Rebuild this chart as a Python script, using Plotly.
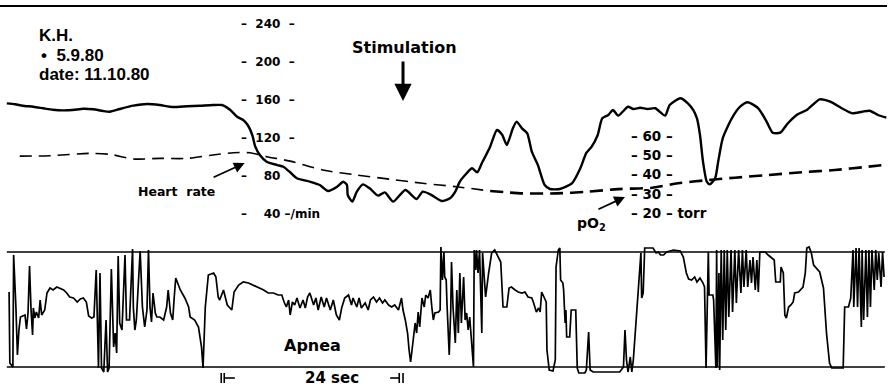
import plotly.graph_objects as go

# ---- recording strip: time in seconds from the left edge of the strip ----
T_END = 117.35

# Heart rate (beats/min)
hr_t = [0.9, 2.0, 3.0, 4.4, 5.7, 7.0, 8.3, 9.6, 11.0, 12.3,
        13.6, 14.5, 15.8, 17.6, 19.4, 21.1, 22.8, 24.7, 26.4, 28.1,
        29.3, 30.4, 31.3, 32.1, 32.7, 33.3, 33.7, 34.3, 35.2, 36.6,
        37.4, 38.3, 39.2, 40.9, 42.2, 43.3, 44.5, 45.3, 45.8, 45.9,
        46.5, 47.1, 47.9, 48.8, 49.9, 50.8, 51.9, 53.5, 55.0, 55.8,
        56.8, 58.3, 59.4, 60.1, 60.7, 61.6, 62.3, 63.0, 63.6, 64.7,
        65.6, 66.3, 66.9, 67.7, 68.2, 68.9, 69.6, 70.2, 71.0, 71.9,
        72.6, 73.9, 75.5, 76.6, 77.4, 78.1, 78.9, 79.5, 80.3, 80.9,
        81.6, 82.2, 82.9, 83.6, 84.5, 85.5, 86.5, 87.8, 88.4, 89.8,
        90.8, 91.5, 92.0, 92.4, 92.8, 93.3, 93.7, 94.4, 94.8, 95.4,
        96.6, 97.7, 98.7, 100.1, 101.2, 102.0, 103.0, 104.0, 105.3, 106.5,
        108.2, 109.6, 111.1, 112.5, 113.8, 114.8, 115.9, 117.0]
hr_bpm = [156.6, 155.6, 154.1, 153.0, 151.4, 149.9, 149.2, 149.6, 150.9, 150.3,
          148.5, 147.8, 150.6, 154.1, 155.9, 154.8, 152.7, 153.5, 154.1, 154.8,
          154.8, 149.6, 142.5, 139.1, 133.8, 123.3, 111.0, 102.3, 95.2, 91.7,
          89.9, 84.1, 77.8, 74.2, 70.7, 64.4, 68.9, 74.2, 70.7, 60.2,
          53.2, 63.7, 71.4, 67.2, 59.5, 63.0, 53.2, 65.4, 56.0, 63.7,
          60.9, 53.9, 56.7, 63.7, 74.2, 83.0, 88.3, 84.1, 93.5, 111.0,
          128.5, 123.3, 112.8, 130.3, 137.3, 130.3, 125.1, 105.7, 91.7, 70.7,
          66.5, 66.5, 72.5, 88.3, 104.4, 111.0, 123.3, 140.8, 144.3, 149.6,
          143.6, 147.8, 153.0, 150.6, 152.0, 150.6, 151.4, 143.6, 154.8, 161.9,
          156.6, 149.6, 140.8, 123.3, 95.2, 74.2, 71.4, 77.8, 95.2, 119.8,
          140.8, 153.0, 157.7, 151.4, 137.3, 125.7, 125.7, 135.6, 145.1, 149.6,
          160.8, 158.3, 151.4, 146.1, 147.8, 148.8, 144.3, 141.5]

# Transcutaneous pO2 (torr)
po2_t = [2.6, 6.6, 11.9, 14.5, 17.6, 21.1, 24.7, 28.1, 30.8, 33.0,
         35.2, 38.3, 42.6, 47.1, 51.5, 55.8, 60.3, 64.7, 69.0, 73.5,
         77.5, 81.6, 86.1, 89.5, 93.5, 97.0, 101.4, 105.9, 110.2, 114.6,
         116.8]
po2_torr = [49.6, 49.8, 51.0, 50.5, 48.1, 48.4, 48.4, 50.2, 51.3, 51.3,
            49.3, 47.0, 42.4, 39.8, 37.6, 35.5, 33.7, 31.5, 30.3, 30.3,
            31.1, 32.5, 33.2, 35.5, 37.2, 38.4, 39.8, 41.2, 42.4, 44.1,
            45.0]

# Respiration (impedance trace, relative units; baseline 0, clip line 115)
resp_t = [1.2, 1.3, 1.7, 1.8, 2.1, 2.3, 2.5, 2.7, 3.3, 3.5,
          3.7, 3.9, 4.1, 4.3, 4.4, 4.6, 4.8, 5.1, 5.3, 5.5,
          5.9, 6.2, 6.6, 7.0, 7.5, 7.9, 8.4, 8.8, 9.2, 9.7,
          10.2, 10.6, 11.0, 11.4, 11.7, 12.1, 12.4, 12.7, 12.8, 13.0,
          13.2, 13.4, 13.7, 14.0, 14.2, 14.4, 14.7, 15.0, 15.2, 15.4,
          15.6, 15.8, 16.1, 16.5, 16.7, 17.1, 17.5, 17.6, 17.8, 18.0,
          18.5, 18.8, 19.1, 19.4, 19.6, 19.8, 20.0, 20.2, 20.5, 20.7,
          21.1, 21.6, 22.0, 22.2, 22.5, 22.8, 23.0, 23.2, 23.8, 24.4,
          24.9, 25.1, 25.7, 26.2, 26.6, 26.8, 27.1, 27.5, 28.2, 28.5,
          28.8, 29.0, 29.5, 30.0, 30.6, 30.9, 31.5, 32.1, 32.8, 33.4,
          34.1, 34.8, 35.4, 36.1, 36.7, 37.2, 37.5, 37.8, 38.1, 38.3,
          38.6, 38.9, 39.2, 39.6, 40.0, 40.3, 40.6, 40.9, 41.4, 41.7,
          42.0, 42.4, 42.8, 43.1, 43.6, 44.0, 44.4, 44.8, 45.1, 45.5,
          46.0, 46.4, 46.6, 47.1, 47.4, 47.7, 48.2, 48.6, 48.9, 49.3,
          49.7, 50.1, 50.5, 50.8, 51.3, 51.7, 52.1, 52.6, 53.0, 53.2,
          53.5, 53.8, 54.0, 54.2, 54.5, 54.8, 55.0, 55.2, 55.4, 55.7,
          56.0, 56.2, 56.5, 56.8, 57.0, 57.2, 57.4, 57.9, 58.1, 58.2,
          58.4, 58.6, 58.7, 58.9, 59.0, 59.3, 59.5, 59.6, 59.8, 60.1,
          60.3, 60.5, 60.7, 60.9, 61.2, 61.4, 61.6, 61.8, 62.0, 62.3,
          62.5, 62.6, 62.8, 62.9, 63.1, 63.3, 63.5, 63.6, 63.7, 63.9,
          64.1, 64.5, 64.9, 65.3, 65.8, 66.1, 66.4, 66.9, 67.2, 67.5,
          68.0, 68.4, 68.9, 69.3, 69.7, 70.2, 70.4, 70.8, 71.1, 71.3,
          71.5, 71.8, 72.1, 72.2, 72.5, 73.0, 73.3, 73.4, 73.7, 73.9,
          74.0, 74.3, 74.4, 74.6, 74.7, 74.8, 75.2, 75.4, 76.0, 76.2,
          76.4, 77.2, 77.4, 77.7, 77.9, 78.3, 81.8, 82.3, 82.5, 82.7,
          82.9, 83.2, 83.4, 83.6, 84.0, 84.4, 84.6, 84.7, 84.9, 85.1,
          86.2, 86.6, 86.9, 87.2, 87.6, 88.0, 88.9, 89.8, 90.2, 90.6,
          90.9, 91.3, 91.7, 92.0, 92.4, 92.8, 93.0, 93.2, 93.4, 93.5,
          93.6, 94.1, 94.2, 94.5, 94.6, 94.7, 94.9, 95.0, 95.2, 95.4,
          95.6, 95.8, 96.0, 96.2, 96.5, 96.7, 97.0, 97.2, 97.5, 97.8,
          98.0, 98.2, 98.5, 98.7, 99.0, 99.2, 99.4, 99.7, 99.9, 100.1,
          100.3, 101.0, 101.4, 101.9, 102.2, 102.4, 103.0, 103.1, 103.4, 103.6,
          103.8, 104.1, 104.4, 104.7, 104.9, 105.4, 105.8, 106.0, 106.3, 106.5,
          106.8, 107.1, 107.4, 107.8, 108.2, 108.7, 109.1, 109.5, 109.8, 111.3,
          111.5, 112.0, 112.3, 112.6, 112.7, 113.0, 113.2, 113.4, 113.7, 113.8,
          114.0, 114.3, 114.5, 114.7, 114.9, 115.1, 115.4, 115.6, 115.8, 116.0,
          116.3, 116.5, 116.7]
resp_amp = [75, 4, 0, 112, 60, 12, 37, 50, 52, 38,
            54, 101, 57, 32, 59, 49, 55, 49, 67, 52,
            57, 74, 79, 77, 80, 79, 77, 74, 70, 69,
            65, 68, 69, 65, 51, 49, 50, 97, 59, -1,
            94, -1, -5, 47, -5, -1, 98, 20, 34, 14,
            111, 44, 37, 112, 47, 47, 118, 60, 37, 47,
            116, 60, 40, 57, 117, 60, 45, 74, 54, 50,
            50, 47, 60, 77, 54, 47, 70, 89, 77, 69,
            60, 50, 47, 40, 20, -1, 60, 92, 94, 90,
            70, 67, 77, 62, 57, 75, 82, 85, 84, 82,
            79, 77, 74, 74, 72, 72, 65, 60, 67, 52,
            65, 62, 69, 59, 67, 59, 70, 74, 62, 69,
            57, 70, 60, 69, 57, 67, 52, 47, 59, 69,
            72, 62, 69, 60, 69, 59, 64, 57, 67, 70,
            65, 69, 64, 67, 62, 60, 62, 57, 69, 57,
            47, 34, 17, 5, 24, 44, 34, 55, 40, 69,
            60, 72, 69, 77, 60, 47, 54, 55, 57, 120,
            87, 115, 90, 87, 64, 12, 57, 105, 60, 24,
            77, 34, 94, 44, 90, 47, 54, 37, 50, 17,
            0, 117, 97, 117, 94, 117, 60, 34, 114, 87,
            70, 94, 114, 117, 110, 105, 60, 60, 79, 80,
            77, 75, 74, 75, 70, 69, 65, 55, 59, 55,
            75, 69, 65, 17, -3, -4, 7, 100, 117, 119,
            87, 84, 77, 44, 57, 30, 30, 57, 57, -1,
            -6, -6, -3, 35, -3, -5, -5, 0, 37, 7,
            -5, 10, -5, 7, 50, 87, 114, 69, 74, 119,
            119, 114, 115, 112, 112, 115, 117, 116, 110, 94,
            88, 87, 90, 85, 89, 84, 80, -1, 74, 115,
            72, 72, 67, -1, 117, 0, 94, -3, 117, 27,
            117, 37, 117, 50, 117, 55, 117, 64, 117, 74,
            117, 80, 117, 80, 107, 84, 110, 77, 107, 75,
            115, 115, 112, 109, 107, 85, 85, 100, 94, 52,
            49, 60, 62, 65, 74, 75, 79, 80, 94, 119,
            120, 114, 102, 99, 95, 79, 34, 4, -1, -1,
            60, 60, 69, 117, 60, 119, 60, 119, 40, 117,
            47, 117, 50, 117, 60, 117, 77, 117, 87, 114,
            80, 115, 90]

RESP_BASE = 0
RESP_CLIP = 115
resp_line_t = [0.9, 116.8]

# Tick labels of the two scales
NB = "\u00a0"
hr_ticks = [40, 80, 120, 160, 200, 240]
hr_ticktext = ["–" + NB * 4 + "40" + NB + "–/min", "–" + NB * 4 + "80",
               "–" + NB * 2 + "120" + NB * 2 + "–", "–" + NB * 2 + "160" + NB * 2 + "–",
               "–" + NB * 2 + "200" + NB * 2 + "–", "–" + NB * 2 + "240" + NB * 2 + "–"]
po2_ticks = [20, 30, 40, 50, 60]
po2_ticktext = ["–" + NB + "20" + NB + "–" + NB + "torr", "–" + NB + "30" + NB + "–",
                "–" + NB + "40" + NB + "–", "–" + NB + "50" + NB + "–",
                "–" + NB + "60" + NB + "–"]

STIM_T = 53.2          # onset of stimulation
APNEA_START = 29.2     # start of the marked apnea
APNEA_DUR = 24         # seconds

# pointer arrows: (tail, head) in the coordinates of their own axis
stim_arrow_t, stim_arrow_bpm = [STIM_T, STIM_T], [202.1, 159.0]
hr_arrow_t, hr_arrow_bpm = [28.0, 32.3], [78.1, 93.8]
po2_arrow_t, po2_arrow_torr = [78.8, 82.5], [21.7, 28.4]

W, H = 889, 387
FONT = "DejaVu Sans"
HEAD_FONT = "Liberation Sans"
INK = "black"

fig = go.Figure()

# pO2: thinner dashes before, heavier after ~65 s
split = 17
fig.add_trace(go.Scatter(x=po2_t[:split + 1], y=po2_torr[:split + 1], yaxis="y2",
                         mode="lines", line=dict(color=INK, width=1.6, dash="12px,7px",
                                                 shape="spline", smoothing=0.8),
                         hoverinfo="skip"))
fig.add_trace(go.Scatter(x=po2_t[split:], y=po2_torr[split:], yaxis="y2",
                         mode="lines", line=dict(color=INK, width=2.6, dash="13px,7px",
                                                 shape="spline", smoothing=0.8),
                         hoverinfo="skip"))

# heart rate
fig.add_trace(go.Scatter(x=hr_t, y=hr_bpm, mode="lines",
                         line=dict(color=INK, width=2.4, shape="spline", smoothing=0.6),
                         hoverinfo="skip"))

# respiration with its baseline and clip line
fig.add_trace(go.Scatter(x=resp_line_t, y=[RESP_CLIP, RESP_CLIP], yaxis="y3", mode="lines",
                         line=dict(color=INK, width=1.5), hoverinfo="skip"))
fig.add_trace(go.Scatter(x=resp_line_t, y=[RESP_BASE, RESP_BASE], yaxis="y3", mode="lines",
                         line=dict(color=INK, width=1.5), hoverinfo="skip"))
fig.add_trace(go.Scatter(x=resp_t, y=resp_amp, yaxis="y3", mode="lines",
                         line=dict(color=INK, width=1.7), hoverinfo="skip"))

# 24 s time marker under the strip
a0, a1 = APNEA_START, APNEA_START + APNEA_DUR
mk_x = [a0, a0, None, a0 + 0.4, a0 + 0.4, None, a0 + 0.4, a0 + 1.8, None,
        a1 - 1.7, a1 - 0.5, None, a1 - 0.5, a1 - 0.5, None, a1, a1]
mk_y = [-6, -16, None, -6, -16, None, -11, -11, None,
        -11, -11, None, -6, -16, None, -6, -16]
fig.add_trace(go.Scatter(x=mk_x, y=mk_y, yaxis="y3", mode="lines",
                         line=dict(color=INK, width=1.6), hoverinfo="skip"))


def py(p):
    return 1 - p / H


def px(p):
    return p / W


def pointer(xs, ys, yref, width, size):
    # arrow from (xs[0], ys[0]) to the tip at (xs[1], ys[1]), both in data units
    return dict(text="", x=xs[1], y=ys[1], ax=xs[0], ay=ys[0], xref="x", yref=yref,
                axref="x", ayref=yref, showarrow=True, arrowhead=2, arrowsize=size,
                arrowwidth=width, arrowcolor=INK)


ann = [
    dict(text="<b>K.H.</b>", x=px(37), y=py(36), xanchor="left", yanchor="middle",
         font=dict(size=17, family=HEAD_FONT)),
    dict(text="<b>•" + NB * 2 + "5.9.80</b>", x=px(39), y=py(55), xanchor="left",
         yanchor="middle", font=dict(size=17, family=HEAD_FONT)),
    dict(text="<b>date:" + NB + "11.10.80</b>", x=px(37), y=py(74), xanchor="left",
         yanchor="middle", font=dict(size=17, family=HEAD_FONT)),
    dict(text="<b>Stimulation</b>", x=STIM_T + 0.2, xref="x", y=py(47), xanchor="center",
         yanchor="middle", font=dict(size=16)),
    dict(text="<b>Heart" + NB * 2 + "rate</b>", x=px(176), y=py(191), xanchor="center",
         yanchor="middle", font=dict(size=12.5)),
    dict(text="<b>pO<sub>2</sub></b>", x=px(591), y=py(224), xanchor="center",
         yanchor="middle", font=dict(size=14)),
    dict(text="<b>Apnea</b>", x=px(312), y=py(345), xanchor="center", yanchor="middle",
         font=dict(size=16)),
    dict(text="<b>24 sec</b>", x=px(332), y=py(378), xanchor="center", yanchor="middle",
         font=dict(size=15)),
]
for a in ann:
    a.setdefault("xref", "paper")
    a.setdefault("yref", "paper")
    a.setdefault("showarrow", False)
    f = a.setdefault("font", {})
    f.setdefault("family", FONT)
    f.setdefault("color", INK)

ann += [
    pointer(stim_arrow_t, stim_arrow_bpm, "y", 3, 1.15),
    pointer(hr_arrow_t, hr_arrow_bpm, "y", 1.8, 1.2),
    pointer(po2_arrow_t, po2_arrow_torr, "y2", 1.8, 1.2),
]

tickfont_hr = dict(family=FONT, size=12, color=INK, weight="bold")
tickfont_po2 = dict(family=FONT, size=13.5, color=INK, weight="bold")

fig.update_layout(
    width=W, height=H,
    margin=dict(l=0, r=0, t=0, b=0, pad=0),
    paper_bgcolor="white", plot_bgcolor="white",
    showlegend=False,
    xaxis=dict(range=[0, T_END], visible=False, domain=[0, 1]),
    yaxis=dict(range=[-141.7, 265.24], anchor="free", position=240 / W, side="right",
               tickvals=hr_ticks, ticktext=hr_ticktext, tickfont=tickfont_hr,
               ticks="", showline=False, showgrid=False, zeroline=False),
    yaxis2=dict(range=[-70.05, 130.47], overlaying="y", anchor="free", position=630 / W,
                side="right", tickvals=po2_ticks, ticktext=po2_ticktext,
                tickfont=tickfont_po2, ticks="", showline=False, showgrid=False,
                zeroline=False),
    yaxis3=dict(range=[-20, 367], overlaying="y", visible=False),
    annotations=ann,
    shapes=[dict(type="line", xref="paper", yref="paper", x0=0, x1=px(887),
                 y0=py(6), y1=py(6), line=dict(color=INK, width=2))],
)

fig.write_html("out.html")
